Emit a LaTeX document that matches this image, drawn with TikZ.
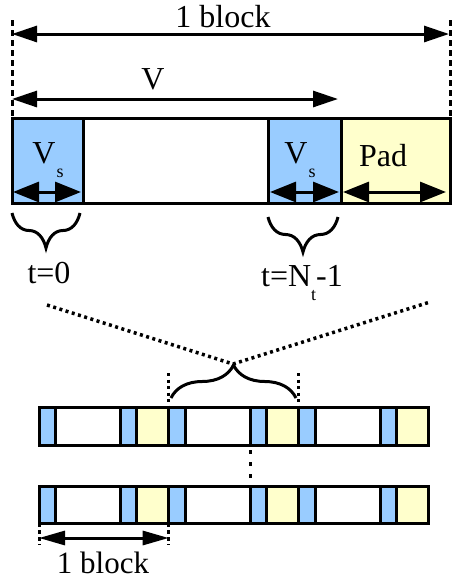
\documentclass[tikz,border=0pt]{standalone}
\usepackage{fontspec}
\setmainfont{Liberation Serif}
\usetikzlibrary{arrows.meta,decorations.pathreplacing,calc}
\definecolor{cellblue}{RGB}{153,204,255}
\definecolor{cellyellow}{RGB}{255,255,204}
\tikzset{
  cell/.style={draw=black, line width=3pt},
  bigarrow/.style={line width=3pt, {Triangle[length=25pt,width=16pt]}-{Triangle[length=25pt,width=16pt]}},
  fatarrow/.style={line width=3pt, {Triangle[length=26pt,width=20pt]}-{Triangle[length=26pt,width=20pt]}},
  smallarrow/.style={line width=3pt, {Triangle[length=26pt,width=14pt]}-{Triangle[length=26pt,width=14pt]}},
  guide/.style={line width=3pt, dash pattern=on 6pt off 4pt},
  dots/.style={line width=3.5pt, dash pattern=on 3pt off 3.5pt},
  sparsedots/.style={line width=3.5pt, dash pattern=on 4pt off 8pt},
  bracedown/.style={line width=3pt, decorate, decoration={brace, mirror, amplitude=35pt}},
  braceup/.style={line width=3pt, decorate, decoration={brace, amplitude=33pt}},
  lbl/.style={font=\fontsize{32}{36}\selectfont, inner sep=0pt, anchor=base},
  lblsmall/.style={font=\fontsize{31}{34}\selectfont, inner sep=0pt, anchor=base},
}
\newcommand{\subS}[1]{\raisebox{-14pt}{\fontsize{18}{18}\selectfont #1}}
\begin{document}
\begin{tikzpicture}[x=1pt,y=-1pt]
\useasboundingbox (0,0) rectangle (452,582);

% ---------- top block ----------
\coordinate (tl) at (12,118);
\coordinate (tr) at (450,118);
\draw[cell, fill=cellblue]   (12,118) rectangle (83,203);
\draw[cell, fill=white]      (83,118) rectangle (268,203);
\draw[cell, fill=cellblue]   (268,118) rectangle (341,203);
\draw[cell, fill=cellyellow] (341,118) rectangle (450,203);

\coordinate (gl) at (12,20);
\coordinate (gr) at (450,20);
\draw[guide] (gl) -- (tl);
\draw[guide] (gr) -- (tr);

\coordinate (a1l) at (12,34);
\coordinate (a1r) at (449,34);
\draw[bigarrow] (a1l) -- (a1r);
\node[lbl] (blk) at (223,27) {1 block};

\coordinate (a2l) at (12,99);
\coordinate (a2r) at (338,99);
\draw[bigarrow] (a2l) -- (a2r);
\node[lbl] (vlab) at (153,89) {V};

\node[lbl] (vs1) at (48,163) {V\kern1pt\subS{s}};
\node[lbl] (vs2) at (300,163) {V\kern1pt\subS{s}};
\node[lbl] (pad) at (383,166) {Pad};

\coordinate (i1l) at (13,192);
\coordinate (i1r) at (81,192);
\coordinate (i2l) at (270,192);
\coordinate (i2r) at (339,192);
\coordinate (i3l) at (343,192);
\coordinate (i3r) at (446,192);
\draw[fatarrow] (i1l) -- (i1r);
\draw[fatarrow] (i2l) -- (i2r);
\draw[fatarrow] (i3l) -- (i3r);

\coordinate (b1l) at (12,213);
\coordinate (b1r) at (80,213);
\coordinate (b2l) at (268,217);
\coordinate (b2r) at (338,217);
\draw[bracedown] (b1l) -- (b1r);
\draw[bracedown] (b2l) -- (b2r);

\node[lbl] (t0) at (49,283) {t=0};
\node[lbl] (tn) at (302,286) {t=N\subS{t}-1};

% ---------- bottom rows ----------
\foreach \y/\h/\r in {407/445/ra, 486/523/rb}{
  \foreach \k in {0,1,2}{
    \pgfmathsetmacro{\xa}{39+129.667*\k}
    \pgfmathsetmacro{\xb}{\xa+0.13*129.667}
    \pgfmathsetmacro{\xc}{\xa+0.63*129.667}
    \pgfmathsetmacro{\xd}{\xa+0.755*129.667}
    \pgfmathsetmacro{\xe}{\xa+129.667}
    \draw[cell, fill=cellblue]   (\xa,\y) rectangle (\xb,\h);
    \draw[cell, fill=white]      (\xb,\y) rectangle (\xc,\h);
    \draw[cell, fill=cellblue]   (\xc,\y) rectangle (\xd,\h);
    \draw[cell, fill=cellyellow] (\xd,\y) rectangle (\xe,\h);
  }
}

\coordinate (zl) at (47,305);
\coordinate (apex) at (233,364);
\coordinate (zr) at (430,302);
\draw[dots] (zl) -- (apex) -- (zr);

\coordinate (bbl) at (171,398);
\coordinate (bbr) at (296,398);
\draw[braceup] (bbl) -- (bbr);

\coordinate (vl1) at (168.7,373);
\coordinate (vl2) at (168.7,407);
\coordinate (vr1) at (298.3,373);
\coordinate (vr2) at (298.3,407);
\draw[dots] (vl1) -- (vl2);
\draw[dots] (vr1) -- (vr2);

\coordinate (m1) at (250.4,450);
\coordinate (m2) at (250.4,480);
\draw[sparsedots] (m1) -- (m2);

\coordinate (k1a) at (39,523);
\coordinate (k1b) at (39,545);
\coordinate (k2a) at (168.7,523);
\coordinate (k2b) at (168.7,545);
\draw[line width=3pt, dash pattern=on 4pt off 3pt] (k1a) -- (k1b);
\draw[line width=3pt, dash pattern=on 4pt off 3pt] (k2a) -- (k2b);
\coordinate (a3l) at (39,538);
\coordinate (a3r) at (168.7,538);
\draw[smallarrow] (a3l) -- (a3r);
\node[lblsmall] (blk2) at (103,573) {1 block};
\end{tikzpicture}
\end{document}
